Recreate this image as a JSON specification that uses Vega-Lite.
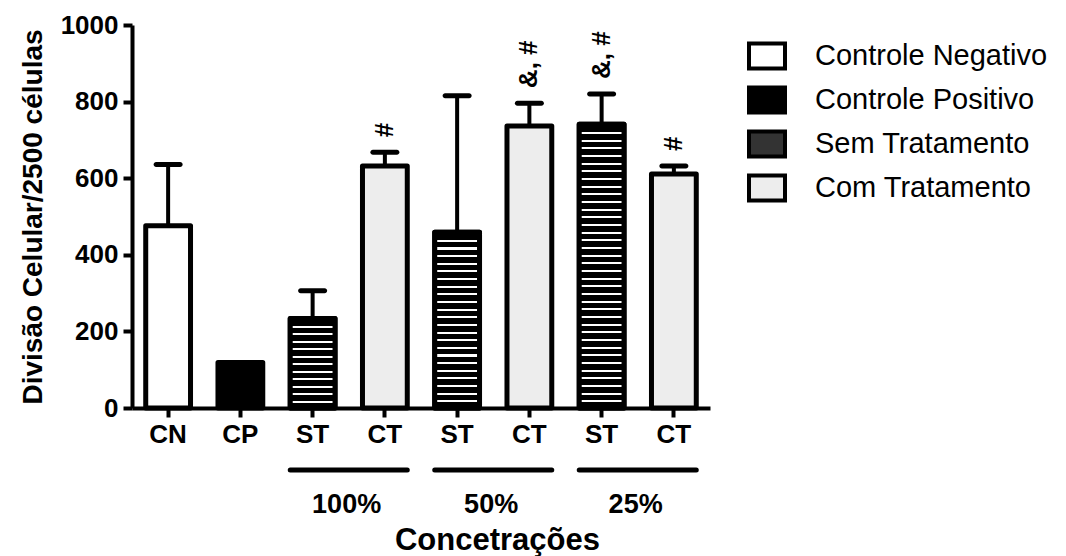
{
  "$schema": "https://vega.github.io/schema/vega-lite/v6.json",
  "width": 578,
  "height": 383,
  "autosize": {"type": "none"},
  "padding": {"left": 132, "top": 25, "right": 356, "bottom": 148},
  "background": "white",
  "config": {
    "view": {"stroke": null},
    "font": "Liberation Sans",
    "axis": {
      "domainColor": "black", "domainWidth": 4, "tickColor": "black", "tickWidth": 4, "tickSize": 9,
      "labelFont": "Liberation Sans", "labelFontWeight": "bold", "labelFontSize": 26, "labelColor": "black",
      "titleFont": "Liberation Sans", "titleFontWeight": "bold", "titleColor": "black", "grid": false
    }
  },
  "datasets": {
    "bars": [
      {"grp": "CN", "cat": "Controle Negativo", "value": 476, "errTop": 636, "sig": null},
      {"grp": "CP", "cat": "Controle Positivo", "value": 119, "errTop": null, "sig": null},
      {"grp": "ST100", "cat": "Sem Tratamento", "value": 234, "errTop": 306, "sig": null},
      {"grp": "CT100", "cat": "Com Tratamento", "value": 632, "errTop": 668, "sig": "#"},
      {"grp": "ST50", "cat": "Sem Tratamento", "value": 459, "errTop": 815, "sig": null},
      {"grp": "CT50", "cat": "Com Tratamento", "value": 736, "errTop": 796, "sig": "&, #"},
      {"grp": "ST25", "cat": "Sem Tratamento", "value": 741, "errTop": 820, "sig": "&, #"},
      {"grp": "CT25", "cat": "Com Tratamento", "value": 611, "errTop": 632, "sig": "#"}
    ],
    "groups": [
      {"label": "100%", "start": "ST100", "end": "CT100"},
      {"label": "50%", "start": "ST50", "end": "CT50"},
      {"label": "25%", "start": "ST25", "end": "CT25"}
    ]
  },
  "encoding": {
    "x": {
      "field": "grp", "type": "nominal",
      "scale": {"domain": ["CN", "CP", "ST100", "CT100", "ST50", "CT50", "ST25", "CT25"], "paddingInner": 0.38, "paddingOuter": 0.19},
      "axis": {
        "labelAngle": 0, "labelPadding": 4, "labelExpr": "substring(datum.label, 0, 2)",
        "title": "Concetrações", "titleFontSize": 31, "titleX": 365, "titleY": 132, "titleBaseline": "middle", "titleAnchor": "middle"
      }
    }
  },
  "layer": [
    {
      "data": {"name": "bars"},
      "transform": [{"filter": "datum.errTop != null"}],
      "mark": {"type": "rule", "strokeWidth": 4, "color": "black"},
      "encoding": {
        "y": {"field": "value", "type": "quantitative"},
        "y2": {"field": "errTop"}
      }
    },
    {
      "data": {"name": "bars"},
      "mark": {"type": "bar", "stroke": "black", "strokeWidth": 5, "strokeJoin": "round", "clip": false},
      "encoding": {
        "y": {
          "field": "value", "type": "quantitative",
          "scale": {"domain": [0, 1000], "nice": false, "zero": true},
          "axis": {"values": [0, 200, 400, 600, 800, 1000], "format": "d", "title": "Divisão Celular/2500 células", "titleFontSize": 28, "titlePadding": 13, "labelPadding": 5}
        },
        "fill": {
          "field": "cat", "type": "nominal",
          "scale": {"domain": ["Controle Negativo", "Controle Positivo", "Sem Tratamento", "Com Tratamento"], "range": ["#ffffff", "#000000", "#333333", "#ededed"]},
          "legend": {
            "title": null, "orient": "none", "legendX": 615, "legendY": 11, "padding": 0,
            "symbolType": "M-1,-0.7L1,-0.7L1,0.7L-1,0.7Z", "symbolSize": 1296,
            "symbolStrokeColor": "black", "symbolStrokeWidth": 4, "symbolOpacity": 1,
            "labelFont": "Liberation Sans", "labelFontSize": 29, "labelColor": "black", "labelOffset": 28,
            "rowPadding": 2, "labelLimit": 400
          }
        }
      }
    },
    {
      "data": {"name": "bars"},
      "transform": [{"filter": "datum.grp == 'ST100'"}],
      "mark": {"type": "bar", "stroke": "black", "strokeWidth": 5, "strokeJoin": "round",
        "fill": {"gradient": "linear", "x1": 0, "y1": 0, "x2": 0, "y2": 1, "stops": [
          {"offset": 0, "color": "#fff"}, {"offset": 0.022, "color": "#fff"}, {"offset": 0.022, "color": "#000"}, {"offset": 0.0833, "color": "#000"},
          {"offset": 0.0833, "color": "#fff"}, {"offset": 0.1053, "color": "#fff"}, {"offset": 0.1053, "color": "#000"}, {"offset": 0.1667, "color": "#000"},
          {"offset": 0.1667, "color": "#fff"}, {"offset": 0.1887, "color": "#fff"}, {"offset": 0.1887, "color": "#000"}, {"offset": 0.25, "color": "#000"},
          {"offset": 0.25, "color": "#fff"}, {"offset": 0.272, "color": "#fff"}, {"offset": 0.272, "color": "#000"}, {"offset": 0.3333, "color": "#000"},
          {"offset": 0.3333, "color": "#fff"}, {"offset": 0.3553, "color": "#fff"}, {"offset": 0.3553, "color": "#000"}, {"offset": 0.4167, "color": "#000"},
          {"offset": 0.4167, "color": "#fff"}, {"offset": 0.4387, "color": "#fff"}, {"offset": 0.4387, "color": "#000"}, {"offset": 0.5, "color": "#000"},
          {"offset": 0.5, "color": "#fff"}, {"offset": 0.522, "color": "#fff"}, {"offset": 0.522, "color": "#000"}, {"offset": 0.5833, "color": "#000"},
          {"offset": 0.5833, "color": "#fff"}, {"offset": 0.6053, "color": "#fff"}, {"offset": 0.6053, "color": "#000"}, {"offset": 0.6667, "color": "#000"},
          {"offset": 0.6667, "color": "#fff"}, {"offset": 0.6887, "color": "#fff"}, {"offset": 0.6887, "color": "#000"}, {"offset": 0.75, "color": "#000"},
          {"offset": 0.75, "color": "#fff"}, {"offset": 0.772, "color": "#fff"}, {"offset": 0.772, "color": "#000"}, {"offset": 0.8333, "color": "#000"},
          {"offset": 0.8333, "color": "#fff"}, {"offset": 0.8553, "color": "#fff"}, {"offset": 0.8553, "color": "#000"}, {"offset": 0.9167, "color": "#000"},
          {"offset": 0.9167, "color": "#fff"}, {"offset": 0.9387, "color": "#fff"}, {"offset": 0.9387, "color": "#000"}, {"offset": 1, "color": "#000"}
        ]}},
      "encoding": {
        "y": {"field": "value", "type": "quantitative"}
      }
    },
    {
      "data": {"name": "bars"},
      "transform": [{"filter": "datum.grp == 'ST50'"}],
      "mark": {"type": "bar", "stroke": "black", "strokeWidth": 5, "strokeJoin": "round",
        "fill": {"gradient": "linear", "x1": 0, "y1": 0, "x2": 0, "y2": 1, "stops": [
          {"offset": 0, "color": "#fff"}, {"offset": 0.0114, "color": "#fff"}, {"offset": 0.0114, "color": "#000"}, {"offset": 0.04348, "color": "#000"},
          {"offset": 0.04348, "color": "#fff"}, {"offset": 0.0549, "color": "#fff"}, {"offset": 0.0549, "color": "#000"}, {"offset": 0.08696, "color": "#000"},
          {"offset": 0.08696, "color": "#fff"}, {"offset": 0.0984, "color": "#fff"}, {"offset": 0.0984, "color": "#000"}, {"offset": 0.13043, "color": "#000"},
          {"offset": 0.13043, "color": "#fff"}, {"offset": 0.1418, "color": "#fff"}, {"offset": 0.1418, "color": "#000"}, {"offset": 0.17391, "color": "#000"},
          {"offset": 0.17391, "color": "#fff"}, {"offset": 0.1853, "color": "#fff"}, {"offset": 0.1853, "color": "#000"}, {"offset": 0.21739, "color": "#000"},
          {"offset": 0.21739, "color": "#fff"}, {"offset": 0.2288, "color": "#fff"}, {"offset": 0.2288, "color": "#000"}, {"offset": 0.26087, "color": "#000"},
          {"offset": 0.26087, "color": "#fff"}, {"offset": 0.2723, "color": "#fff"}, {"offset": 0.2723, "color": "#000"}, {"offset": 0.30435, "color": "#000"},
          {"offset": 0.30435, "color": "#fff"}, {"offset": 0.3158, "color": "#fff"}, {"offset": 0.3158, "color": "#000"}, {"offset": 0.34783, "color": "#000"},
          {"offset": 0.34783, "color": "#fff"}, {"offset": 0.3592, "color": "#fff"}, {"offset": 0.3592, "color": "#000"}, {"offset": 0.3913, "color": "#000"},
          {"offset": 0.3913, "color": "#fff"}, {"offset": 0.4027, "color": "#fff"}, {"offset": 0.4027, "color": "#000"}, {"offset": 0.43478, "color": "#000"},
          {"offset": 0.43478, "color": "#fff"}, {"offset": 0.4462, "color": "#fff"}, {"offset": 0.4462, "color": "#000"}, {"offset": 0.47826, "color": "#000"},
          {"offset": 0.47826, "color": "#fff"}, {"offset": 0.4897, "color": "#fff"}, {"offset": 0.4897, "color": "#000"}, {"offset": 0.52174, "color": "#000"},
          {"offset": 0.52174, "color": "#fff"}, {"offset": 0.5331, "color": "#fff"}, {"offset": 0.5331, "color": "#000"}, {"offset": 0.56522, "color": "#000"},
          {"offset": 0.56522, "color": "#fff"}, {"offset": 0.5766, "color": "#fff"}, {"offset": 0.5766, "color": "#000"}, {"offset": 0.6087, "color": "#000"},
          {"offset": 0.6087, "color": "#fff"}, {"offset": 0.6201, "color": "#fff"}, {"offset": 0.6201, "color": "#000"}, {"offset": 0.65217, "color": "#000"},
          {"offset": 0.65217, "color": "#fff"}, {"offset": 0.6636, "color": "#fff"}, {"offset": 0.6636, "color": "#000"}, {"offset": 0.69565, "color": "#000"},
          {"offset": 0.69565, "color": "#fff"}, {"offset": 0.7071, "color": "#fff"}, {"offset": 0.7071, "color": "#000"}, {"offset": 0.73913, "color": "#000"},
          {"offset": 0.73913, "color": "#fff"}, {"offset": 0.7505, "color": "#fff"}, {"offset": 0.7505, "color": "#000"}, {"offset": 0.78261, "color": "#000"},
          {"offset": 0.78261, "color": "#fff"}, {"offset": 0.794, "color": "#fff"}, {"offset": 0.794, "color": "#000"}, {"offset": 0.82609, "color": "#000"},
          {"offset": 0.82609, "color": "#fff"}, {"offset": 0.8375, "color": "#fff"}, {"offset": 0.8375, "color": "#000"}, {"offset": 0.86957, "color": "#000"},
          {"offset": 0.86957, "color": "#fff"}, {"offset": 0.881, "color": "#fff"}, {"offset": 0.881, "color": "#000"}, {"offset": 0.91304, "color": "#000"},
          {"offset": 0.91304, "color": "#fff"}, {"offset": 0.9244, "color": "#fff"}, {"offset": 0.9244, "color": "#000"}, {"offset": 0.95652, "color": "#000"},
          {"offset": 0.95652, "color": "#fff"}, {"offset": 0.9679, "color": "#fff"}, {"offset": 0.9679, "color": "#000"}, {"offset": 1, "color": "#000"}
        ]}},
      "encoding": {
        "y": {"field": "value", "type": "quantitative"}
      }
    },
    {
      "data": {"name": "bars"},
      "transform": [{"filter": "datum.grp == 'ST25'"}],
      "mark": {"type": "bar", "stroke": "black", "strokeWidth": 5, "strokeJoin": "round",
        "fill": {"gradient": "linear", "x1": 0, "y1": 0, "x2": 0, "y2": 1, "stops": [
          {"offset": 0, "color": "#fff"}, {"offset": 0.007, "color": "#fff"}, {"offset": 0.007, "color": "#000"}, {"offset": 0.02703, "color": "#000"},
          {"offset": 0.02703, "color": "#fff"}, {"offset": 0.03403, "color": "#fff"}, {"offset": 0.03403, "color": "#000"}, {"offset": 0.05405, "color": "#000"},
          {"offset": 0.05405, "color": "#fff"}, {"offset": 0.06105, "color": "#fff"}, {"offset": 0.06105, "color": "#000"}, {"offset": 0.08108, "color": "#000"},
          {"offset": 0.08108, "color": "#fff"}, {"offset": 0.08808, "color": "#fff"}, {"offset": 0.08808, "color": "#000"}, {"offset": 0.10811, "color": "#000"},
          {"offset": 0.10811, "color": "#fff"}, {"offset": 0.11511, "color": "#fff"}, {"offset": 0.11511, "color": "#000"}, {"offset": 0.13514, "color": "#000"},
          {"offset": 0.13514, "color": "#fff"}, {"offset": 0.14214, "color": "#fff"}, {"offset": 0.14214, "color": "#000"}, {"offset": 0.16216, "color": "#000"},
          {"offset": 0.16216, "color": "#fff"}, {"offset": 0.16916, "color": "#fff"}, {"offset": 0.16916, "color": "#000"}, {"offset": 0.18919, "color": "#000"},
          {"offset": 0.18919, "color": "#fff"}, {"offset": 0.19619, "color": "#fff"}, {"offset": 0.19619, "color": "#000"}, {"offset": 0.21622, "color": "#000"},
          {"offset": 0.21622, "color": "#fff"}, {"offset": 0.22322, "color": "#fff"}, {"offset": 0.22322, "color": "#000"}, {"offset": 0.24324, "color": "#000"},
          {"offset": 0.24324, "color": "#fff"}, {"offset": 0.25024, "color": "#fff"}, {"offset": 0.25024, "color": "#000"}, {"offset": 0.27027, "color": "#000"},
          {"offset": 0.27027, "color": "#fff"}, {"offset": 0.27727, "color": "#fff"}, {"offset": 0.27727, "color": "#000"}, {"offset": 0.2973, "color": "#000"},
          {"offset": 0.2973, "color": "#fff"}, {"offset": 0.3043, "color": "#fff"}, {"offset": 0.3043, "color": "#000"}, {"offset": 0.32432, "color": "#000"},
          {"offset": 0.32432, "color": "#fff"}, {"offset": 0.33132, "color": "#fff"}, {"offset": 0.33132, "color": "#000"}, {"offset": 0.35135, "color": "#000"},
          {"offset": 0.35135, "color": "#fff"}, {"offset": 0.35835, "color": "#fff"}, {"offset": 0.35835, "color": "#000"}, {"offset": 0.37838, "color": "#000"},
          {"offset": 0.37838, "color": "#fff"}, {"offset": 0.38538, "color": "#fff"}, {"offset": 0.38538, "color": "#000"}, {"offset": 0.40541, "color": "#000"},
          {"offset": 0.40541, "color": "#fff"}, {"offset": 0.41241, "color": "#fff"}, {"offset": 0.41241, "color": "#000"}, {"offset": 0.43243, "color": "#000"},
          {"offset": 0.43243, "color": "#fff"}, {"offset": 0.43943, "color": "#fff"}, {"offset": 0.43943, "color": "#000"}, {"offset": 0.45946, "color": "#000"},
          {"offset": 0.45946, "color": "#fff"}, {"offset": 0.46646, "color": "#fff"}, {"offset": 0.46646, "color": "#000"}, {"offset": 0.48649, "color": "#000"},
          {"offset": 0.48649, "color": "#fff"}, {"offset": 0.49349, "color": "#fff"}, {"offset": 0.49349, "color": "#000"}, {"offset": 0.51351, "color": "#000"},
          {"offset": 0.51351, "color": "#fff"}, {"offset": 0.52051, "color": "#fff"}, {"offset": 0.52051, "color": "#000"}, {"offset": 0.54054, "color": "#000"},
          {"offset": 0.54054, "color": "#fff"}, {"offset": 0.54754, "color": "#fff"}, {"offset": 0.54754, "color": "#000"}, {"offset": 0.56757, "color": "#000"},
          {"offset": 0.56757, "color": "#fff"}, {"offset": 0.57457, "color": "#fff"}, {"offset": 0.57457, "color": "#000"}, {"offset": 0.59459, "color": "#000"},
          {"offset": 0.59459, "color": "#fff"}, {"offset": 0.60159, "color": "#fff"}, {"offset": 0.60159, "color": "#000"}, {"offset": 0.62162, "color": "#000"},
          {"offset": 0.62162, "color": "#fff"}, {"offset": 0.62862, "color": "#fff"}, {"offset": 0.62862, "color": "#000"}, {"offset": 0.64865, "color": "#000"},
          {"offset": 0.64865, "color": "#fff"}, {"offset": 0.65565, "color": "#fff"}, {"offset": 0.65565, "color": "#000"}, {"offset": 0.67568, "color": "#000"},
          {"offset": 0.67568, "color": "#fff"}, {"offset": 0.68268, "color": "#fff"}, {"offset": 0.68268, "color": "#000"}, {"offset": 0.7027, "color": "#000"},
          {"offset": 0.7027, "color": "#fff"}, {"offset": 0.7097, "color": "#fff"}, {"offset": 0.7097, "color": "#000"}, {"offset": 0.72973, "color": "#000"},
          {"offset": 0.72973, "color": "#fff"}, {"offset": 0.73673, "color": "#fff"}, {"offset": 0.73673, "color": "#000"}, {"offset": 0.75676, "color": "#000"},
          {"offset": 0.75676, "color": "#fff"}, {"offset": 0.76376, "color": "#fff"}, {"offset": 0.76376, "color": "#000"}, {"offset": 0.78378, "color": "#000"},
          {"offset": 0.78378, "color": "#fff"}, {"offset": 0.79078, "color": "#fff"}, {"offset": 0.79078, "color": "#000"}, {"offset": 0.81081, "color": "#000"},
          {"offset": 0.81081, "color": "#fff"}, {"offset": 0.81781, "color": "#fff"}, {"offset": 0.81781, "color": "#000"}, {"offset": 0.83784, "color": "#000"},
          {"offset": 0.83784, "color": "#fff"}, {"offset": 0.84484, "color": "#fff"}, {"offset": 0.84484, "color": "#000"}, {"offset": 0.86486, "color": "#000"},
          {"offset": 0.86486, "color": "#fff"}, {"offset": 0.87186, "color": "#fff"}, {"offset": 0.87186, "color": "#000"}, {"offset": 0.89189, "color": "#000"},
          {"offset": 0.89189, "color": "#fff"}, {"offset": 0.89889, "color": "#fff"}, {"offset": 0.89889, "color": "#000"}, {"offset": 0.91892, "color": "#000"},
          {"offset": 0.91892, "color": "#fff"}, {"offset": 0.92592, "color": "#fff"}, {"offset": 0.92592, "color": "#000"}, {"offset": 0.94595, "color": "#000"},
          {"offset": 0.94595, "color": "#fff"}, {"offset": 0.95295, "color": "#fff"}, {"offset": 0.95295, "color": "#000"}, {"offset": 0.97297, "color": "#000"},
          {"offset": 0.97297, "color": "#fff"}, {"offset": 0.97997, "color": "#fff"}, {"offset": 0.97997, "color": "#000"}, {"offset": 1, "color": "#000"}
        ]}},
      "encoding": {
        "y": {"field": "value", "type": "quantitative"}
      }
    },
    {
      "data": {"name": "bars"},
      "transform": [{"filter": "datum.errTop != null"}],
      "mark": {"type": "tick", "size": 29, "thickness": 5, "color": "black", "opacity": 1, "cornerRadius": 2.5},
      "encoding": {
        "y": {"field": "errTop", "type": "quantitative"}
      }
    },
    {
      "data": {"name": "bars"},
      "transform": [{"filter": "datum.sig != null"}],
      "mark": {"type": "text", "angle": 270, "align": "left", "baseline": "middle", "dx": 15, "font": "Liberation Sans", "fontWeight": "bold", "fontSize": 26, "color": "black"},
      "encoding": {
        "y": {"field": "errTop", "type": "quantitative"},
        "text": {"field": "sig"}
      }
    },
    {
      "data": {"name": "groups"},
      "mark": {"type": "rule", "strokeWidth": 5, "strokeCap": "round", "color": "black", "clip": false},
      "encoding": {
        "x": {"field": "start", "type": "nominal", "bandPosition": 0},
        "x2": {"field": "end", "bandPosition": 1},
        "y": {"datum": -162, "type": "quantitative"}
      }
    },
    {
      "data": {"name": "groups"},
      "mark": {"type": "text", "align": "center", "baseline": "middle", "dx": 34, "font": "Liberation Sans", "fontWeight": "bold", "fontSize": 27, "color": "black", "clip": false},
      "encoding": {
        "x": {"field": "start", "type": "nominal"},
        "y": {"datum": -253, "type": "quantitative"},
        "text": {"field": "label"}
      }
    }
  ]
}
